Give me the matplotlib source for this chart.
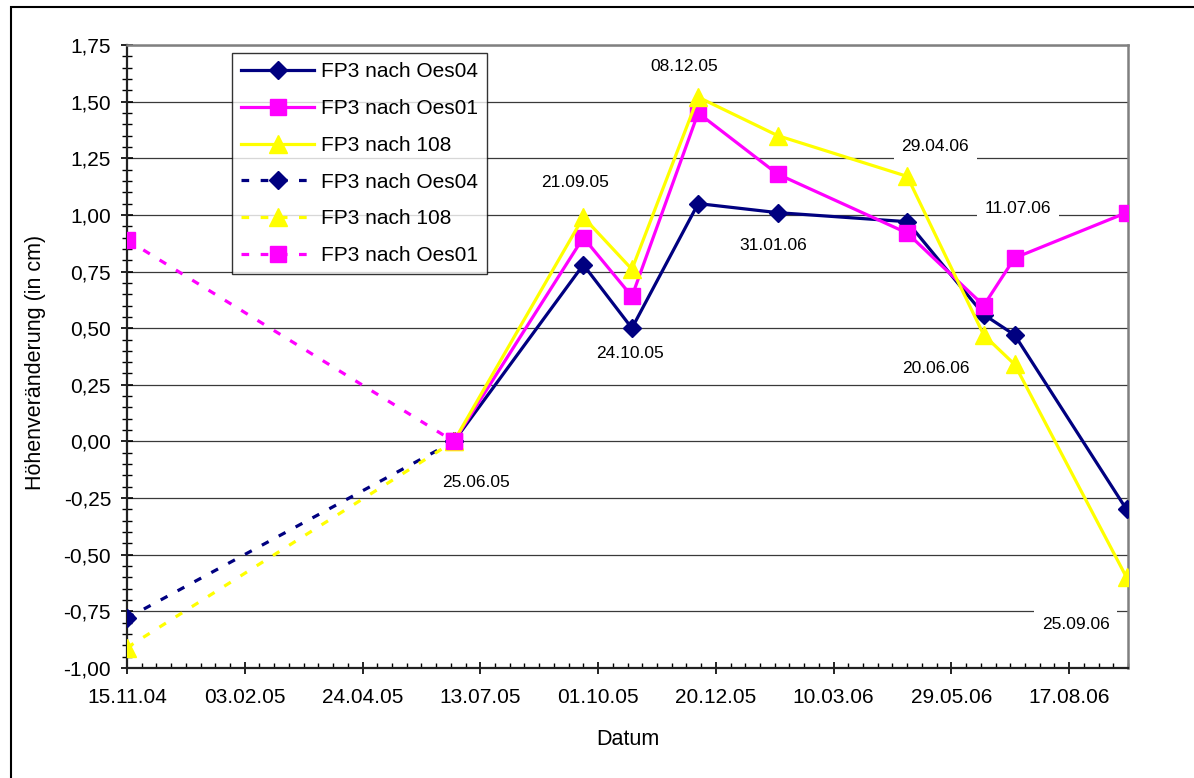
import datetime as dt
import matplotlib
matplotlib.use("Agg")
import matplotlib.pyplot as plt
import matplotlib.dates as mdates
from matplotlib.ticker import FixedLocator, FuncFormatter
from matplotlib.patches import Rectangle
import numpy as np

plt.rcParams['font.family'] = ['Liberation Sans', 'DejaVu Sans']

# measurement dates (solid series start at the reference measurement 25.06.05)
dates = [dt.date(2005, 6, 25), dt.date(2005, 9, 21), dt.date(2005, 10, 24),
         dt.date(2005, 12, 8), dt.date(2006, 1, 31), dt.date(2006, 4, 29),
         dt.date(2006, 6, 20), dt.date(2006, 7, 11), dt.date(2006, 9, 25)]
oes04 = [0.00, 0.78, 0.50, 1.05, 1.01, 0.97, 0.56, 0.47, -0.30]
oes01 = [0.00, 0.90, 0.64, 1.45, 1.18, 0.92, 0.60, 0.81, 1.01]
nach108 = [0.00, 0.99, 0.76, 1.52, 1.35, 1.17, 0.47, 0.34, -0.60]

# earlier measurement, connected by dashed lines
early_dates = [dt.date(2004, 11, 15), dt.date(2005, 6, 25)]
oes04_early = [-0.78, 0.00]
nach108_early = [-0.91, 0.00]
oes01_early = [0.89, 0.00]

navy = '#000080'
magenta = '#FF00FF'
yellow = '#FFFF00'

fig = plt.figure(figsize=(11.94, 7.78), dpi=100)
ax = fig.add_axes([127 / 1194, 110 / 778, 1001 / 1194, 623 / 778])

lw = 2.3
dash = (2.4, 3.6)
ax.plot(dates, oes04, color=navy, lw=lw, marker='D', ms=8.8, label='FP3 nach Oes04', zorder=4)
ax.plot(dates, oes01, color=magenta, lw=lw, marker='s', ms=11.5, label='FP3 nach Oes01', zorder=4)
ax.plot(dates, nach108, color=yellow, lw=lw, marker='^', ms=12.5, label='FP3 nach 108', zorder=4)
ax.plot(early_dates, oes04_early, color=navy, lw=lw, ls=(0, dash), marker='D', ms=8.8,
        label='FP3 nach Oes04', zorder=4)
ax.plot(early_dates, nach108_early, color=yellow, lw=lw, ls=(0, dash), marker='^', ms=12.5,
        label='FP3 nach 108', zorder=4)
ax.plot(early_dates, oes01_early, color=magenta, lw=lw, ls=(0, dash), marker='s', ms=11.5,
        label='FP3 nach Oes01', zorder=4)

# date labels next to the points
label_spots = [(-0.179, 22), (1.141, -8), (0.390, -2), (1.657, -14), (0.867, -4),
               (1.304, 28), (0.324, -48), (1.030, 3), (-0.810, -51)]
for d, (lev, dx) in zip(dates, label_spots):
    ax.annotate(d.strftime('%d.%m.%y'), xy=(d, lev), xytext=(dx, 0), textcoords='offset pixels',
                ha='center', va='center', fontsize=12.5, zorder=5,
                bbox=dict(boxstyle='square,pad=0.45', fc='white', ec='none'))

# axes ranges and ticks
x0 = mdates.date2num(dt.date(2004, 11, 15))
ax.set_xlim(x0, x0 + 680)
ax.set_ylim(-1.0, 1.75)
ax.xaxis.set_major_locator(FixedLocator(np.arange(x0, x0 + 681, 80)))
ax.xaxis.set_minor_locator(FixedLocator(np.arange(x0, x0 + 681, 10)))
ax.xaxis.set_major_formatter(mdates.DateFormatter('%d.%m.%y'))
ax.yaxis.set_major_locator(FixedLocator(np.arange(-1.0, 1.76, 0.25)))
ax.yaxis.set_minor_locator(FixedLocator(np.arange(-1.0, 1.76, 0.05)))
ax.yaxis.set_major_formatter(FuncFormatter(lambda v, p: f"{v:.2f}".replace('.', ',')))

ax.tick_params(axis='both', which='major', direction='inout', length=9, width=1.2,
               labelsize=15, colors='black')
ax.tick_params(axis='x', which='major', pad=10)
ax.tick_params(axis='y', which='major', pad=7)
ax.tick_params(axis='y', which='minor', direction='inout', length=6.5, width=1.0)
ax.tick_params(axis='x', which='minor', direction='in', length=3.5, width=1.0)

ax.grid(True, which='major', axis='y', color='#3a3a3a', lw=0.9, zorder=0)
ax.set_axisbelow(True)
for s in ['left', 'bottom']:
    ax.spines[s].set_color('#222222')
    ax.spines[s].set_linewidth(1.6)
for s in ['top', 'right']:
    ax.spines[s].set_color('#808080')
    ax.spines[s].set_linewidth(1.8)

ax.set_xlabel('Datum', fontsize=15.5)
ax.xaxis.set_label_coords(0.5, -0.098)
ax.set_ylabel('Höhenveränderung (in cm)', fontsize=15.5)
ax.yaxis.set_label_coords(-0.081, 0.49)

leg = ax.legend(loc='upper left', bbox_to_anchor=(0.105, 0.987), borderaxespad=0,
                fontsize=15, frameon=True, fancybox=False, edgecolor='black',
                handlelength=3.5, handletextpad=0.3, labelspacing=0.85, borderpad=0.45)
leg.get_frame().set_linewidth(1.0)
leg.set_zorder(6)

# outer chart frame (only top and left edges fall inside the picture)
fig.add_artist(Rectangle((11 / 1194, -0.1), 1.2, (778 - 7) / 778 + 0.1,
                         transform=fig.transFigure, fill=False, ec='black', lw=1.5,
                         clip_on=False))

fig.savefig('out.png', dpi=100)
